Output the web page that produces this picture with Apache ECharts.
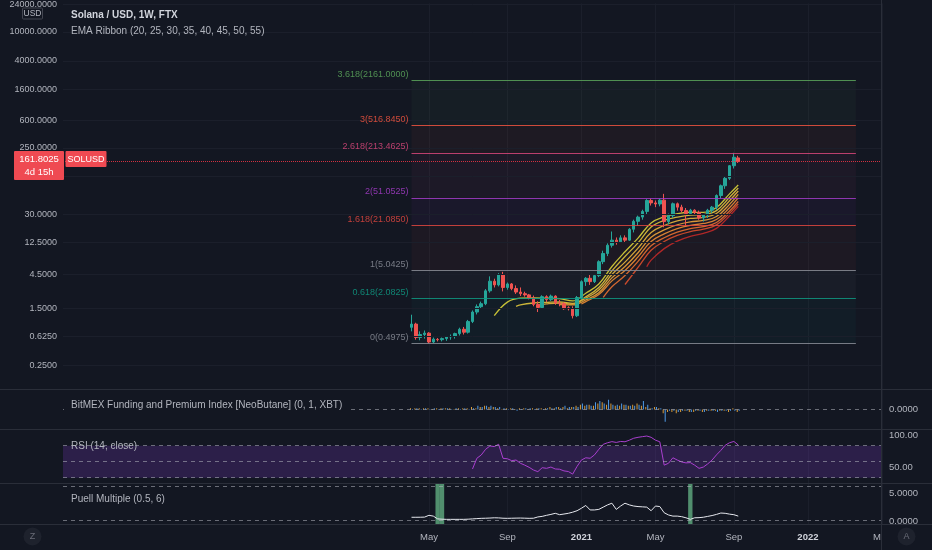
<!DOCTYPE html>
<html><head><meta charset="utf-8">
<script src="https://cdn.jsdelivr.net/npm/echarts@6/dist/echarts.min.js"></script>
<style>html,body{margin:0;padding:0;background:#131722;}#c{width:932px;height:550px;}</style>
</head><body><div id="c"></div>
<script>
// ---------------- time axis ----------------
const firstWeek = '2018-09-24';
const weekCount = 189;
const candleStart = '2020-04-06';
const fibEndDate = '2022-03-21';
const timeTickDates = ['2020-05-04','2020-09-07','2021-01-04','2021-05-03','2021-09-06','2022-01-03','2022-05-02'];
const timeTickLabels = ['May','Sep','2021','May','Sep','2022','May'];
const yearLabels = ['2021','2022'];

// ---------------- SOL/USD weekly candles [open, close, low, high] ----------------
const ohlc = [
[0.83,0.92,0.73,1.24],[0.92,0.60,0.56,0.96],[0.60,0.66,0.55,0.73],[0.66,0.69,0.58,0.75],
[0.69,0.52,0.50,0.71],[0.52,0.57,0.50,0.60],[0.565,0.56,0.53,0.59],[0.56,0.58,0.53,0.60],
[0.58,0.61,0.54,0.63],[0.61,0.62,0.56,0.66],[0.62,0.68,0.58,0.70],[0.68,0.78,0.64,0.82],
[0.78,0.71,0.66,0.84],[0.71,1.00,0.68,1.05],[1.00,1.35,0.95,1.42],[1.35,1.60,1.25,1.72],
[1.60,1.76,1.50,1.88],[1.76,2.65,1.68,2.80],[2.65,3.60,2.50,4.20],[3.60,3.20,2.95,3.90],
[3.20,4.45,3.05,4.65],[4.45,2.95,2.60,4.85],[2.95,3.30,2.75,3.45],[3.30,2.85,2.70,3.40],
[2.85,2.55,2.40,3.15],[2.55,2.42,2.25,2.95],[2.42,2.33,2.20,2.58],[2.33,2.12,2.02,2.40],
[2.12,1.72,1.62,2.28],[1.72,1.56,1.35,1.90],[1.56,2.20,1.50,2.30],[2.20,2.00,1.85,2.30],
[2.00,2.24,1.92,2.35],[2.24,1.80,1.70,2.30],[1.80,1.76,1.62,1.98],[1.76,1.50,1.45,1.85],
[1.55,1.50,1.42,1.62],[1.50,1.20,1.10,1.62],[1.20,2.14,1.15,2.25],[2.14,3.55,2.00,3.70],
[3.55,3.95,3.10,4.10],[3.95,3.55,3.20,4.40],[3.55,4.30,3.40,4.50],[4.30,6.70,4.10,7.00],
[6.70,8.70,6.20,9.50],[8.70,11.30,8.00,12.00],[11.30,13.30,10.50,17.50],[13.30,12.60,11.50,14.50],
[12.60,14.30,12.20,15.50],[14.30,13.30,12.20,15.50],[13.30,18.80,13.00,19.50],[18.80,24.20,17.00,25.50],
[24.20,27.70,21.00,29.00],[27.70,33.20,25.50,35.00],[33.20,47.00,30.00,49.00],[47.00,43.50,40.00,50.00],
[43.50,42.00,38.00,47.00],[42.00,47.50,39.00,50.00],[47.50,24.00,20.00,58.00],[24.00,29.00,22.00,31.00],
[29.00,42.30,27.00,44.00],[42.30,38.00,34.00,44.00],[38.00,34.20,32.00,41.00],[34.20,31.00,21.00,37.00],
[31.00,34.50,29.50,36.00],[34.50,32.00,30.00,35.50],[32.00,27.00,25.50,34.00],[27.00,29.50,24.00,30.50],
[29.50,34.50,27.00,36.00],[34.50,38.00,31.50,39.50],[38.00,55.00,35.00,57.00],[55.00,75.00,50.00,78.00],
[75.00,95.00,68.00,100.00],[95.00,142.00,90.00,145.00],[142.00,186.00,130.00,214.00],[182.00,161.80,155.00,195.00]
];
const lastPrice = 161.8025;
const priceTicks = [0.25,0.625,1.5,4.5,12.5,30,100,250,600,1600,4000,10000,24000];

// ---------------- Fibonacci extension ----------------
const fibRatios = ['0','0.618','1','1.618','2','2.618','3','3.618'];
const fibPrices = [0.4975,2.0825,5.0425,21.0850,51.0525,213.4625,516.8450,2161.0000];
const fibColors = ['#8a8d96','#0f9982','#8a8d96','#e0463f','#a53cc8','#d8467a','#f0533f','#5aa45a'];

// ---------------- EMA ribbon [week, value] ----------------
const ema20 = [[19,1.2],[22,1.85],[25,2.1],[28,2.12],[31,2.1],[34,2.07],[37,1.92],[40,2.45],[43,3.3],[46,5.75],[49,9.2],[52,14.2],[55,23.0],[58,28.0],[61,30.8],[64,32.3],[67,32.2],[70,37.5],[73,58.0],[75,77.0]];
const ema25 = [[24,1.62],[25,1.7],[28,1.8],[31,1.84],[34,1.87],[37,1.78],[40,2.2],[43,2.95],[46,5.0],[49,7.9],[52,12.2],[55,20.2],[58,25.0],[61,27.6],[64,29.5],[67,30.0],[70,34.0],[73,52.0],[75,70.0]];
const ema30 = [[29,1.68],[31,1.75],[34,1.8],[37,1.74],[40,2.1],[43,2.72],[46,4.45],[49,6.6],[52,10.3],[55,17.0],[58,21.2],[61,24.5],[64,26.5],[67,27.4],[70,31.0],[73,46.5],[75,63.5]];
const ema35 = [[34,1.71],[37,1.69],[40,1.98],[43,2.5],[46,4.0],[49,5.75],[52,8.9],[55,14.6],[58,18.4],[61,21.7],[64,23.8],[67,24.9],[70,28.2],[73,41.5],[75,57.0]];
const ema40 = [[39,1.745],[40,1.88],[43,2.35],[46,3.64],[49,5.05],[52,7.8],[55,12.7],[58,16.2],[61,19.2],[64,21.3],[67,22.6],[70,25.6],[73,37.3],[75,51.0]];
const ema45 = [[44,2.16],[46,3.02],[49,4.32],[52,6.76],[55,11.10],[58,14.36],[61,17.15],[64,19.17],[67,20.45],[70,23.29],[73,33.65],[75,45.53]];
const ema50 = [[49,3.24],[52,5.58],[55,9.64],[58,12.76],[61,15.47],[64,17.49],[67,18.84],[70,21.6],[73,31.18],[75,42.1]];
const ema55 = [[54,5.69],[55,7.04],[58,10.16],[61,12.87],[64,14.97],[67,16.47],[70,19.32],[73,28.7],[75,38.9]];
const emaColors = ['#cfc838','#d6bd3a','#dcae3a','#e09c38','#e08634','#dc6c30','#d04c2c','#b82828'];

// ---------------- BitMEX funding / premium (weekly) ----------------
const fundingRate = [0.0001,0.0001,0.0001,0.0001,0.0001,0.00005,0.0001,0.0001,0.0001,0.0001,0.00005,0.0001,0.0001,0.0001,
0.0002,0.0001,0.0002,0.0003,0.0002,0.0002,0.0001,
-0.00005,0.0001,0.0001,-0.00005,0.0001,0.0001,0.00005,0.0001,0.0001,0.0001,0.0001,
0.0002,0.0001,0.0002,0.0002,0.0001,0.0002,
0.0003,0.0004,0.0003,0.0004,0.0003,
0.0005,0.0006,0.0004,0.0005,0.0003,
0.0003,0.0004,0.0003,
0.0004,0.0005,0.0003,0.0002,
0.0001,0.0002,0.0001,
-0.0003,
-0.0002,-0.0002,-0.0003,-0.0002,-0.0001,-0.0002,-0.0002,-0.0001,-0.0002,-0.0001,-0.0001,-0.0001,-0.0001,-0.0001,-0.0002,0.0001,-0.0002];
const premiumIndex = [0.00005,0.0001,0.00005,0.0001,0.00005,0.0001,0.00005,0.0001,0.0001,0.00005,0.0001,0.00005,0.0001,0.00005,
0.0001,0.0003,0.0002,0.0003,0.0003,0.0002,0.0002,
0.0001,0.00005,0.0001,-0.0001,0.00005,0.0001,0.0001,0.00005,0.0001,0.00005,0.0001,
0.0001,0.0002,0.0001,0.0003,0.0002,0.0002,
0.0002,0.0005,0.0004,0.0003,0.0006,
0.0007,0.0005,0.0008,0.0004,0.0004,
0.0005,0.0004,0.0003,
0.0003,0.0004,0.0007,0.0004,
0.0001,0.0002,0.0001,
-0.001,
-0.0001,-0.0001,-0.0002,-0.0001,-0.0001,-0.0002,-0.0001,-0.0001,-0.0002,-0.0001,-0.0001,-0.0002,-0.0001,-0.0001,-0.0001,-0.0001,-0.0001];

// ---------------- RSI(14) from week 14 ----------------
const rsiStartWeek = 14;
const rsi = [48,64.7,69.8,78.7,84,83,86.6,64.7,64,61,62,56.9,54,50.6,46.4,43.8,50,49,51,48,47.6,45,44,40,52,62,65.5,64.7,70,78.7,86.5,89,90.7,89.5,91,90.5,93,96,97.5,98.5,99.5,97.5,93,90.5,54,57,65.5,62,59,57.5,58,54,49,51,56,62,70,77,85,89,91,85.5];
const rsiBandLines = [84.4, 59.4, 34.4];

// ---------------- Puell Multiple ----------------
const puell = [0.79,0.79,0.8,0.82,1.14,1.0,0.5,0.45,0.42,0.42,0.42,0.42,0.42,0.45,0.5,0.55,0.6,0.62,0.65,0.7,
0.68,0.62,0.6,0.62,0.64,0.65,0.63,0.6,0.62,0.85,0.95,1.14,1.3,1.5,1.25,1.37,1.5,1.7,1.96,2.4,
2.9,2.1,2.1,2.2,2.6,3.0,3.3,2.2,2.8,3.3,3.0,2.8,2.7,2.65,2.6,1.96,2.8,2.7,1.6,1.2,
1.0,1.0,0.9,0.7,0.42,0.7,0.72,0.8,0.95,1.1,1.3,1.55,1.5,1.35,1.25,1.0];
const puellSignalWeeks = [6, 7, 64];
const puellLines = [6.25, 0.18];

// ================= build =================
const FONT = '"Liberation Sans", Arial, sans-serif';
const DAY = 864e5;
const t0 = Date.parse(firstWeek + 'T00:00:00Z');
const weeks = [];
for (let k = 0; k < weekCount; k++) weeks.push(new Date(t0 + k * 7 * DAY).toISOString().slice(0, 10));
const k0 = weeks.indexOf(candleStart);
const kFibEnd = weeks.indexOf(fibEndDate);
const tickLabelOf = {};
timeTickDates.forEach((d, j) => { tickLabelOf[d] = timeTickLabels[j]; });
const isTick = (idx, val) => Object.prototype.hasOwnProperty.call(tickLabelOf, val);

function xAxisFor(g, show) {
  return {
    type: 'category', gridIndex: g, data: weeks, boundaryGap: false,
    axisLine: {show: false}, axisTick: {show: false},
    axisLabel: {
      show: show, interval: isTick, margin: 8, color: '#b2b5be', fontSize: 9.5, fontFamily: FONT,
      formatter: (val) => { const s = tickLabelOf[val] || ''; return yearLabels.indexOf(s) >= 0 ? '{y|' + s + '}' : s; },
      rich: {y: {fontWeight: 'bold', color: '#d1d4dc', fontSize: 9.5, fontFamily: FONT}}
    },
    splitLine: {show: true, interval: isTick, lineStyle: {color: '#1b1f2b', width: 1}}
  };
}
function yAxisFor(g, opts) {
  return Object.assign({
    gridIndex: g, axisLine: {show: false}, axisTick: {show: false}, splitLine: {show: false}
  }, opts);
}
const dashed = {color: 'rgba(178,181,190,0.55)', width: 1, type: [4, 4]};

const gridLineData = priceTicks.map(v => ({yAxis: v, lineStyle: {color: '#1b1f2b', width: 1, type: 'solid'}, label: {show: false}}));
const fibLineData = fibPrices.map((p, j) => [
  {coord: [k0, p], lineStyle: {color: fibColors[j], width: 1, type: 'solid', opacity: 0.85},
   label: {show: true, position: 'start', distance: 3, offset: [0, -6], formatter: fibRatios[j] + '(' + p.toFixed(4) + ')',
           color: fibColors[j], fontSize: 9, fontFamily: FONT}},
  {coord: [kFibEnd, p]}
]);
const fibBandData = fibPrices.slice(1).map((p, j) => [
  {coord: [k0, fibPrices[j]], itemStyle: {color: fibColors[j + 1], opacity: 0.055}},
  {coord: [kFibEnd, p]}
]);
const priceLine = {yAxis: lastPrice, lineStyle: {color: '#f23645', width: 1, type: 'dotted', opacity: 0.85}, label: {show: false}};

const emaSets = [ema20, ema25, ema30, ema35, ema40, ema45, ema50, ema55];
const emaNames = ['EMA20','EMA25','EMA30','EMA35','EMA40','EMA45','EMA50','EMA55'];
const emaSeries = emaSets.map((pts, j) => ({
  name: emaNames[j], type: 'line', xAxisIndex: 0, yAxisIndex: 0, z: 2,
  data: pts.map(p => [p[0] + k0, p[1]]), smooth: 0.4, showSymbol: false, symbol: 'none',
  lineStyle: {color: emaColors[j], width: 1.3, opacity: 0.95}, silent: true
}));

const option = {
  backgroundColor: '#131722',
  animation: false,
  grid: [
    {left: 63, right: 50, top: 0, height: 389},
    {left: 63, right: 50, top: 390, height: 39},
    {left: 63, right: 50, top: 430, height: 53},
    {left: 63, right: 50, top: 484, height: 40}
  ],
  xAxis: [xAxisFor(0, false), xAxisFor(1, false), xAxisFor(2, false), xAxisFor(3, true)],
  yAxis: [
    yAxisFor(0, {type: 'log', logBase: 10, min: 0.1166, max: 24850, position: 'left',
      axisLabel: {customValues: priceTicks, formatter: v => Number(v).toFixed(4), color: '#b2b5be', fontSize: 9, fontFamily: FONT, margin: 6}}),
    yAxisFor(1, {type: 'value', min: -0.0016, max: 0.0016, position: 'right',
      axisLabel: {customValues: [0], formatter: v => Number(v).toFixed(4), color: '#b2b5be', fontSize: 9.5, fontFamily: FONT, margin: 7}}),
    yAxisFor(2, {type: 'value', min: 26.1, max: 108.9, position: 'right',
      axisLabel: {customValues: [50, 100], formatter: v => Number(v).toFixed(2), color: '#b2b5be', fontSize: 9.5, fontFamily: FONT, margin: 7}}),
    yAxisFor(3, {type: 'value', min: -0.41, max: 6.73, position: 'right',
      axisLabel: {customValues: [0, 5], formatter: v => Number(v).toFixed(4), color: '#b2b5be', fontSize: 9.5, fontFamily: FONT, margin: 7}})
  ],
  series: [
    {
      name: 'levels', type: 'line', xAxisIndex: 0, yAxisIndex: 0, z: 1, data: [], silent: true,
      markLine: {silent: true, symbol: ['none', 'none'], animation: false, data: gridLineData.concat(fibLineData).concat([priceLine])},
      markArea: {silent: true, data: fibBandData}
    },
    ...emaSeries,
    {
      name: 'SOLUSD', type: 'candlestick', xAxisIndex: 0, yAxisIndex: 0, z: 3, barWidth: 3,
      dimensions: ['week', 'open', 'close', 'low', 'high'],
      encode: {x: 0, y: [1, 2, 3, 4]},
      data: ohlc.map((r, i) => [k0 + i, r[0], r[1], r[2], r[3]]),
      itemStyle: {color: '#26a69a', color0: '#ef5350', borderColor: '#26a69a', borderColor0: '#ef5350', borderWidth: 1}
    },
    {
      name: 'Funding', type: 'bar', xAxisIndex: 1, yAxisIndex: 1, barWidth: 1, barGap: '100%',
      data: fundingRate.map((v, i) => [k0 + i, v]), itemStyle: {color: '#d89b3a'},
      markLine: {silent: true, symbol: ['none', 'none'], label: {show: false}, lineStyle: dashed, data: [{yAxis: 0}]}
    },
    {
      name: 'Premium', type: 'bar', xAxisIndex: 1, yAxisIndex: 1, barWidth: 1, barGap: '100%',
      data: premiumIndex.map((v, i) => [k0 + i, v]), itemStyle: {color: '#4f9be8'}
    },
    {
      name: 'RSI', type: 'line', xAxisIndex: 2, yAxisIndex: 2, showSymbol: false, symbol: 'none',
      data: rsi.map((v, j) => [k0 + rsiStartWeek + j, v]),
      lineStyle: {color: '#a93fcf', width: 1},
      markArea: {silent: true, itemStyle: {color: 'rgba(126,60,200,0.24)'}, data: [[{yAxis: rsiBandLines[0]}, {yAxis: rsiBandLines[2]}]]},
      markLine: {silent: true, symbol: ['none', 'none'], label: {show: false}, lineStyle: dashed, data: rsiBandLines.map(v => ({yAxis: v}))}
    },
    {
      name: 'PuellSignal', type: 'custom', xAxisIndex: 3, yAxisIndex: 3, z: 1, silent: true,
      data: puellSignalWeeks.map(i => [k0 + i, 0]), encode: {x: 0, y: 1},
      renderItem: (params, api) => {
        const x = api.coord([api.value(0), 0])[0];
        const w = api.size([1, 0])[0];
        const cs = params.coordSys;
        return {type: 'rect', shape: {x: x - w / 2, y: cs.y, width: w, height: cs.height}, style: {fill: 'rgba(105,190,140,0.72)'}};
      }
    },
    {
      name: 'Puell', type: 'line', xAxisIndex: 3, yAxisIndex: 3, z: 3, showSymbol: false, symbol: 'none',
      data: puell.map((v, i) => [k0 + i, v]), lineStyle: {color: '#e6e8ee', width: 1},
      markLine: {silent: true, symbol: ['none', 'none'], label: {show: false}, lineStyle: dashed, data: puellLines.map(v => ({yAxis: v}))}
    }
  ],
  graphic: {elements: [
    // pane separators
    {type: 'line', z: 40, shape: {x1: 0, y1: 389.5, x2: 932, y2: 389.5}, style: {stroke: '#2a2e39', lineWidth: 1}},
    {type: 'line', z: 40, shape: {x1: 0, y1: 429.5, x2: 932, y2: 429.5}, style: {stroke: '#2a2e39', lineWidth: 1}},
    {type: 'line', z: 40, shape: {x1: 0, y1: 483.5, x2: 932, y2: 483.5}, style: {stroke: '#2a2e39', lineWidth: 1}},
    {type: 'line', z: 40, shape: {x1: 0, y1: 524.5, x2: 932, y2: 524.5}, style: {stroke: '#2a2e39', lineWidth: 1}},
    {type: 'rect', z: 50, shape: {x: 882, y: 525, width: 50, height: 25}, style: {fill: '#131722'}},
    {type: 'line', z: 51, shape: {x1: 881.5, y1: 0, x2: 881.5, y2: 550}, style: {stroke: '#2a2e39', lineWidth: 1}},
    // header
    {type: 'text', z: 60, x: 71, y: 15, style: {text: 'Solana / USD, 1W, FTX', fill: '#d1d4dc', font: 'bold 10px ' + FONT, align: 'left', verticalAlign: 'middle'}},
    {type: 'text', z: 60, x: 71, y: 31, style: {text: 'EMA Ribbon (20, 25, 30, 35, 40, 45, 50, 55)', fill: '#b2b5be', font: '10px ' + FONT, align: 'left', verticalAlign: 'middle'}},
    // indicator titles
    {type: 'rect', z: 55, shape: {x: 64, y: 399, width: 283, height: 13}, style: {fill: '#131722'}},
    {type: 'text', z: 60, x: 71, y: 405, style: {text: 'BitMEX Funding and Premium Index [NeoButane] (0, 1, XBT)', fill: '#b2b5be', font: '10px ' + FONT, align: 'left', verticalAlign: 'middle'}},
    {type: 'text', z: 60, x: 71, y: 446.5, style: {text: 'RSI (14, close)', fill: '#b2b5be', font: '10px ' + FONT, align: 'left', verticalAlign: 'middle'}},
    {type: 'text', z: 60, x: 71, y: 499, style: {text: 'Puell Multiple (0.5, 6)', fill: '#b2b5be', font: '10px ' + FONT, align: 'left', verticalAlign: 'middle'}},
    // USD badge
    {type: 'rect', z: 60, shape: {x: 22.5, y: 8, width: 20, height: 11, r: 1}, style: {fill: '#131722', stroke: '#434651', lineWidth: 1}},
    {type: 'text', z: 61, x: 32.5, y: 13.8, style: {text: 'USD', fill: '#b2b5be', font: '8.5px ' + FONT, align: 'center', verticalAlign: 'middle'}},
    // last price badges
    {type: 'rect', z: 60, shape: {x: 14, y: 151, width: 50, height: 29, r: 1}, style: {fill: '#ef4a52'}},
    {type: 'text', z: 61, x: 39, y: 159.3, style: {text: '161.8025', fill: '#ffffff', font: '9.5px ' + FONT, align: 'center', verticalAlign: 'middle'}},
    {type: 'text', z: 61, x: 39, y: 172.5, style: {text: '4d 15h', fill: '#ffffff', font: '9.5px ' + FONT, align: 'center', verticalAlign: 'middle'}},
    {type: 'rect', z: 60, shape: {x: 65.5, y: 151, width: 41, height: 16, r: 1}, style: {fill: '#ef4a52'}},
    {type: 'text', z: 61, x: 86, y: 159.3, style: {text: 'SOLUSD', fill: '#ffffff', font: '9px ' + FONT, align: 'center', verticalAlign: 'middle'}},
    // buttons
    {type: 'circle', z: 60, shape: {cx: 32.5, cy: 536.5, r: 9}, style: {fill: '#1e222d'}},
    {type: 'text', z: 61, x: 32.5, y: 536.5, style: {text: 'Z', fill: '#6a6d78', font: '9px ' + FONT, align: 'center', verticalAlign: 'middle'}},
    {type: 'circle', z: 60, shape: {cx: 906.5, cy: 536.5, r: 9}, style: {fill: '#1e222d'}},
    {type: 'text', z: 61, x: 906.5, y: 536.5, style: {text: 'A', fill: '#6a6d78', font: '9px ' + FONT, align: 'center', verticalAlign: 'middle'}}
  ]}
};
const chart = echarts.init(document.getElementById('c'), null, {renderer: 'canvas'});
chart.setOption(option);
</script>
</body></html>
